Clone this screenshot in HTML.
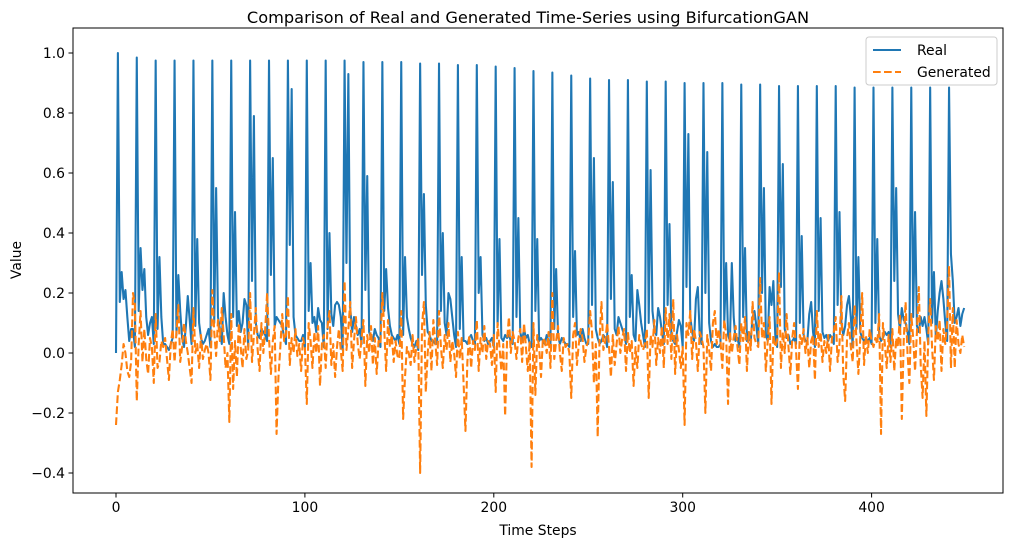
<!DOCTYPE html>
<html><head><meta charset="utf-8"><style>
html,body{margin:0;padding:0;background:#fff;}
svg{display:block;font-family:"DejaVu Sans","Liberation Sans",sans-serif;}
</style></head><body>
<svg id="chart" width="1012" height="547" viewBox="0 0 1012 547">
<rect x="0" y="0" width="1012" height="547" fill="#fff"/>
<text x="528" y="23" text-anchor="middle" font-size="16.2" fill="#000">Comparison of Real and Generated Time-Series using BifurcationGAN</text>
<g id="axes"></g>
<g id="series"></g>
<rect x="73" y="28" width="930" height="465" fill="none" stroke="#000" stroke-width="1"/>
<text x="538" y="535" text-anchor="middle" font-size="13.9">Time Steps</text>
<text x="21" y="260" text-anchor="middle" font-size="13.9" transform="rotate(-90 21 260)">Value</text>
<g>
<rect x="866" y="37" width="131" height="48" rx="3" fill="#fff" fill-opacity="0.85" stroke="#ccc"/>
<g>
<line x1="873" y1="50" x2="901" y2="50" stroke="#1f77b4" stroke-width="2.08"/>
<text x="917" y="55" font-size="13.9">Real</text></g>
<g>
<line x1="873" y1="72" x2="901" y2="72" stroke="#ff7f0e" stroke-width="2.08" stroke-dasharray="7.7,3.3"/>
<text x="917" y="77" font-size="13.9">Generated</text></g>
</g>
</svg>
<script>
const xTicks = [0,100,200,300,400];
const yTicks = [-0.4,-0.2,0.0,0.2,0.4,0.6,0.8,1.0];
const yTickLabels = ["−0.4","−0.2","0.0","0.2","0.4","0.6","0.8","1.0"];
const realValues = [
0.00,1.00,0.17,0.27,0.18,0.21,0.12,0.04,0.08,0.08,
0.02,0.985,0.14,0.35,0.21,0.28,0.12,0.06,0.10,0.12,
0.03,0.975,0.08,0.32,0.12,0.03,0.03,0.02,0.01,0.03,
0.05,0.975,0.06,0.26,0.14,0.05,0.02,0.09,0.19,0.11,
0.03,0.975,0.09,0.38,0.10,0.05,0.03,0.04,0.06,0.08,
0.02,0.975,0.10,0.55,0.12,0.08,0.03,0.20,0.12,0.06,
0.03,0.975,0.12,0.47,0.09,0.14,0.07,0.10,0.18,0.16,
0.02,0.975,0.24,0.79,0.10,0.06,0.05,0.08,0.07,0.06,
0.04,0.975,0.26,0.65,0.09,0.12,0.11,0.10,0.09,0.05,
0.03,0.975,0.36,0.88,0.12,0.06,0.05,0.04,0.04,0.06,
0.02,0.975,0.14,0.30,0.10,0.12,0.07,0.15,0.11,0.10,
0.02,0.975,0.08,0.40,0.13,0.09,0.16,0.17,0.16,0.12,
0.01,0.975,0.30,0.93,0.15,0.07,0.12,0.09,0.06,0.08,
0.03,0.97,0.21,0.59,0.07,0.05,0.04,0.08,0.06,0.05,
0.02,0.97,0.14,0.28,0.15,0.09,0.06,0.05,0.04,0.06,
0.03,0.97,0.06,0.32,0.12,0.08,0.05,0.03,0.02,0.04,
0.01,0.965,0.26,0.53,0.16,0.07,0.06,0.04,0.04,0.03,
0.03,0.965,0.14,0.40,0.10,0.06,0.20,0.18,0.12,0.06,
0.02,0.96,0.08,0.32,0.04,0.04,0.03,0.05,0.06,0.04,
0.03,0.96,0.20,0.32,0.06,0.04,0.05,0.03,0.04,0.05,
0.02,0.955,0.09,0.38,0.05,0.04,0.06,0.05,0.06,0.04,
0.03,0.95,0.12,0.45,0.07,0.04,0.08,0.05,0.06,0.03,
0.02,0.94,0.14,0.38,0.04,0.05,0.04,0.03,0.06,0.04,
0.03,0.935,0.08,0.28,0.06,0.03,0.05,0.04,0.03,0.03,
0.02,0.925,0.12,0.34,0.06,0.07,0.04,0.08,0.05,0.03,
0.03,0.915,0.16,0.65,0.08,0.05,0.03,0.04,0.06,0.05,
0.02,0.91,0.18,0.57,0.08,0.06,0.12,0.10,0.08,0.06,
0.03,0.91,0.12,0.26,0.06,0.04,0.21,0.16,0.10,0.06,
0.02,0.905,0.10,0.61,0.14,0.08,0.06,0.15,0.12,0.07,
0.03,0.905,0.16,0.43,0.06,0.04,0.03,0.07,0.11,0.09,
0.02,0.90,0.22,0.73,0.12,0.07,0.04,0.18,0.22,0.06,
0.03,0.90,0.20,0.67,0.10,0.04,0.02,0.03,0.02,0.02,
0.03,0.90,0.10,0.30,0.06,0.04,0.30,0.12,0.04,0.05,
0.02,0.895,0.12,0.35,0.04,0.07,0.04,0.12,0.14,0.09,
0.03,0.895,0.20,0.55,0.06,0.04,0.22,0.16,0.24,0.06,
0.02,0.89,0.22,0.63,0.08,0.05,0.06,0.03,0.04,0.05,
0.03,0.89,0.10,0.39,0.06,0.04,0.04,0.13,0.17,0.07,
0.02,0.89,0.14,0.45,0.07,0.05,0.06,0.04,0.06,0.05,
0.03,0.89,0.16,0.47,0.10,0.06,0.09,0.16,0.19,0.12,
0.02,0.885,0.08,0.32,0.07,0.05,0.04,0.05,0.04,0.05,
0.03,0.885,0.10,0.38,0.06,0.04,0.05,0.07,0.06,0.07,
0.02,0.885,0.24,0.55,0.13,0.08,0.15,0.11,0.10,0.07,
0.03,0.885,0.12,0.47,0.09,0.07,0.12,0.09,0.12,0.08,
0.03,0.885,0.10,0.27,0.05,0.14,0.20,0.24,0.18,0.10,
0.04,0.885,0.33,0.24,0.10,0.12,0.15,0.09,0.13,0.15
];
const generatedValues = [
-0.24,-0.13,-0.09,-0.04,0.03,0.00,-0.06,-0.08,-0.03,0.20,
0.16,-0.16,0.03,0.14,-0.03,0.08,-0.02,-0.07,0.05,0.02,
-0.10,0.13,-0.05,-0.03,0.04,0.02,0.05,-0.02,-0.09,0.03,
0.08,-0.03,0.07,0.16,-0.03,0.02,0.10,0.04,0.00,-0.05,
-0.10,0.15,0.00,0.03,-0.05,0.06,-0.02,0.01,0.03,0.00,
-0.09,0.21,0.07,-0.01,0.11,0.04,0.15,0.06,-0.05,0.00,
-0.23,0.13,-0.12,0.04,-0.08,0.10,0.02,-0.05,0.08,-0.02,
0.01,0.20,-0.03,0.06,0.15,0.01,-0.06,0.10,0.00,0.08,
0.20,0.05,-0.07,0.04,0.09,-0.27,-0.08,0.02,0.13,0.04,
0.06,0.19,-0.04,0.05,0.00,0.08,-0.01,0.03,-0.06,0.05,
0.02,-0.17,0.10,0.04,-0.05,0.07,0.00,0.09,-0.11,0.03,
0.06,-0.05,0.09,0.14,-0.04,0.03,-0.08,0.02,0.08,0.01,
-0.06,0.24,0.01,0.08,0.17,-0.05,0.04,0.12,0.03,-0.02,
0.05,0.11,-0.11,0.06,0.00,0.09,-0.04,0.05,-0.07,0.04,
0.03,0.20,0.08,-0.06,0.11,0.02,0.06,-0.03,0.04,-0.01,
-0.02,0.14,-0.22,-0.08,0.02,0.00,-0.04,0.06,-0.03,0.02,
0.05,-0.40,0.09,0.17,-0.13,0.00,0.07,-0.06,0.11,0.04,
-0.04,0.14,0.02,-0.05,0.06,0.01,0.10,-0.03,0.04,0.00,
-0.08,0.07,-0.02,0.05,-0.10,-0.26,-0.03,0.06,-0.05,0.04,
0.01,0.11,-0.06,0.05,0.00,0.09,-0.02,0.04,0.03,-0.04,
0.06,-0.13,0.10,0.02,-0.06,0.03,-0.21,0.04,0.12,0.00,
0.07,0.04,-0.02,0.05,0.08,-0.03,0.10,0.02,-0.06,0.04,
-0.38,0.10,-0.14,0.06,0.02,-0.08,0.05,0.04,0.00,0.07,
-0.05,0.20,-0.02,0.04,0.09,0.00,-0.06,0.05,0.02,0.03,
0.00,-0.15,0.06,0.10,-0.04,0.03,0.08,0.05,-0.03,0.02,
0.04,0.14,0.07,-0.10,0.03,-0.28,0.05,0.17,0.01,0.04,
0.10,0.02,-0.08,0.06,-0.04,0.03,0.09,0.00,0.05,0.08,
-0.06,0.07,0.00,0.04,-0.11,0.02,-0.05,0.06,0.03,0.01,
0.03,0.08,-0.15,0.06,0.02,0.11,-0.04,0.05,0.00,0.09,
-0.05,0.15,0.03,0.13,-0.02,0.18,-0.07,0.06,0.01,-0.05,
0.02,-0.24,0.10,0.06,0.14,-0.02,0.08,0.04,-0.06,0.07,
0.05,0.02,-0.20,0.06,0.01,-0.06,0.10,0.14,0.03,0.08,
0.04,-0.05,0.11,0.06,-0.17,0.07,0.00,0.05,0.09,0.02,
-0.04,0.10,0.04,0.12,-0.06,0.07,0.01,0.17,0.05,0.03,
0.02,0.25,0.05,0.10,-0.06,0.04,0.12,-0.17,0.06,0.02,
0.04,0.27,-0.05,0.07,0.00,0.13,0.02,-0.07,0.05,0.10,
0.01,-0.12,0.06,0.03,0.08,0.00,0.05,-0.05,0.04,0.06,
-0.09,0.14,0.02,0.07,-0.03,0.04,0.00,0.06,-0.06,0.05,
0.07,0.12,-0.03,0.03,0.19,-0.07,-0.16,0.05,0.10,0.02,
-0.03,0.16,0.04,-0.07,0.05,0.20,-0.04,0.06,0.00,0.08,
0.04,0.02,0.05,0.03,0.13,-0.27,0.10,0.03,-0.05,0.06,
-0.03,0.08,-0.06,0.05,0.02,0.13,-0.22,0.04,0.17,0.00,
-0.10,0.13,0.05,-0.06,0.07,0.22,-0.04,-0.15,0.04,-0.21,
0.06,0.18,0.02,-0.09,0.09,0.04,0.11,-0.06,0.08,0.03,
0.10,0.29,-0.05,0.15,-0.05,0.11,0.03,0.00,0.06,0.02
];
const NS = "http://www.w3.org/2000/svg";
function xScale(t){ return 116 + t * 1.889; }
function yScale(v){ return 353 - v * 300; }
const axes = document.getElementById('axes');
const series = document.getElementById('series');
xTicks.forEach(function(t){
  const l = document.createElementNS(NS,'line');
  l.setAttribute('x1', xScale(t)); l.setAttribute('x2', xScale(t));
  l.setAttribute('y1', 493); l.setAttribute('y2', 497.5);
  l.setAttribute('stroke', '#000');
  
  
  axes.appendChild(l);
  const tx = document.createElementNS(NS,'text');
  tx.setAttribute('x', xScale(t)); tx.setAttribute('y', 512);
  tx.setAttribute('text-anchor', 'middle'); tx.setAttribute('font-size', '13.9');
  tx.textContent = String(t);
  
  
  axes.appendChild(tx);
});
yTicks.forEach(function(v, i){
  const l = document.createElementNS(NS,'line');
  l.setAttribute('x1', 68.5); l.setAttribute('x2', 73);
  l.setAttribute('y1', yScale(v)); l.setAttribute('y2', yScale(v));
  l.setAttribute('stroke', '#000');
  
  
  axes.appendChild(l);
  const tx = document.createElementNS(NS,'text');
  tx.setAttribute('x', 65); tx.setAttribute('y', yScale(v) + 5);
  tx.setAttribute('text-anchor', 'end'); tx.setAttribute('font-size', '13.9');
  tx.textContent = yTickLabels[i];
  
  
  axes.appendChild(tx);
});
function pathFor(vals){
  return vals.map(function(v, i){ return (i ? 'L' : 'M') + xScale(i).toFixed(2) + ',' + yScale(v).toFixed(2); }).join('');
}
const realPath = document.createElementNS(NS,'path');
realPath.setAttribute('d', pathFor(realValues));
realPath.setAttribute('fill', 'none');
realPath.setAttribute('stroke', '#1f77b4');
realPath.setAttribute('stroke-width', '2.08');
realPath.setAttribute('stroke-linejoin', 'round');


series.appendChild(realPath);
const genPath = document.createElementNS(NS,'path');
genPath.setAttribute('d', pathFor(generatedValues));
genPath.setAttribute('fill', 'none');
genPath.setAttribute('stroke', '#ff7f0e');
genPath.setAttribute('stroke-width', '2.08');
genPath.setAttribute('stroke-dasharray', '7.7,3.3');
genPath.setAttribute('stroke-linejoin', 'round');


series.appendChild(genPath);
</script>
</body></html>
